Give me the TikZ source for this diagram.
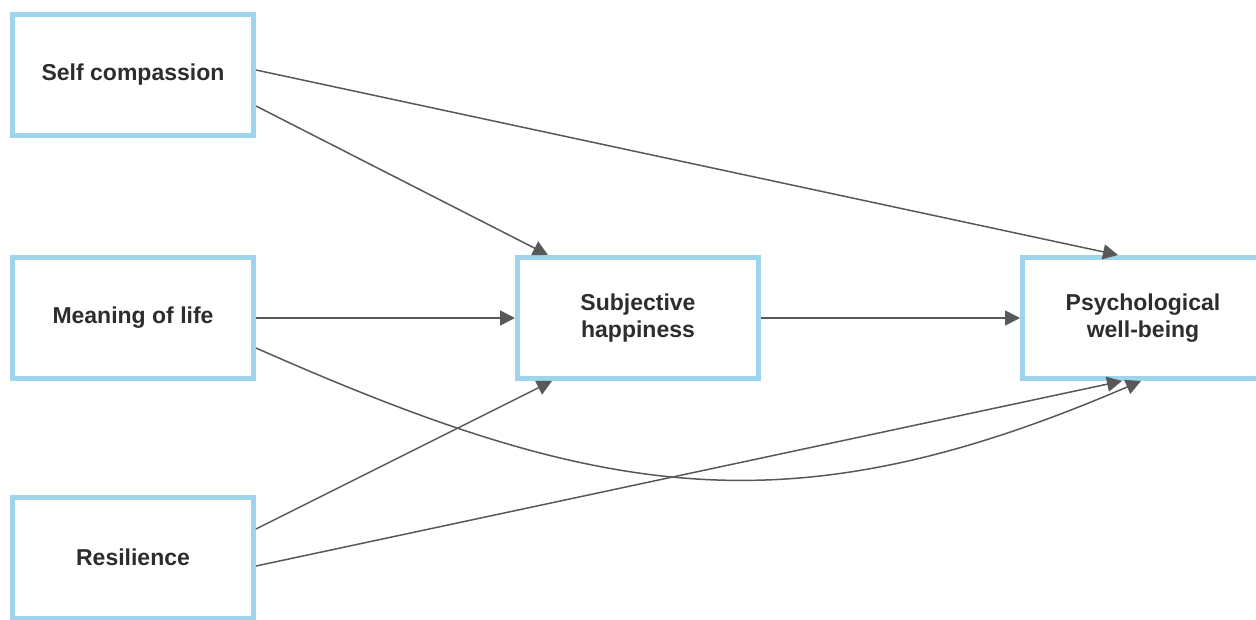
\documentclass[tikz,border=0pt]{standalone}
\usepackage{fontspec}
\setmainfont{Liberation Sans}
\usepackage{tikz}
\usetikzlibrary{arrows.meta,calc,positioning}

\definecolor{boxblue}{RGB}{158,212,236}
\definecolor{linegray}{RGB}{88,88,88}
\definecolor{textgray}{RGB}{45,45,45}

\begin{document}
\begin{tikzpicture}
[x=1pt, y=-1pt,
 construct/.style={rectangle, draw=boxblue, line width=5pt, fill=white,
   minimum width=241pt, minimum height=121pt, align=center, text=textgray,
   font=\fontsize{23}{27}\selectfont\bfseries},
 effect/.style={-{Triangle[length=15pt,width=15pt]}, draw=linegray, line width=1.5pt}]
    \useasboundingbox (0,0) rectangle (1256,619);
    \node[construct](selfc)   at (133,74.5)  {Self compassion};
    \node[construct](meaning) at (133,318)   {Meaning of life};
    \node[construct](resil)   at (133,557.5) {Resilience};
    \node[construct](subj)    at (638,318)   {Subjective\\happiness};
    \node[construct](pwb)     at (1143,318)  {Psychological\\well-being};
    % direct paths
    \draw[effect] ($(selfc.east)+(0,-4.5)$) -- ($(pwb.north)+(-25,0)$);
    \draw[effect] ($(selfc.east)+(0,31.5)$) -- ($(subj.north)+(-90,0)$);
    \draw[effect] (meaning.east) -- (subj.west);
    \draw[effect] (subj.east) -- (pwb.west);
    \draw[effect] ($(resil.east)+(0,-28.5)$) -- ($(subj.south)+(-86,0)$);
    \draw[effect] ($(resil.east)+(0,8.5)$) -- ($(pwb.south)+(-21,0)$);
    % curved path
    \draw[effect] ($(meaning.east)+(0,30)$) .. controls (600,500) and (790,532) .. ($(pwb.south)+(-2,0)$);
\end{tikzpicture}
\end{document}
